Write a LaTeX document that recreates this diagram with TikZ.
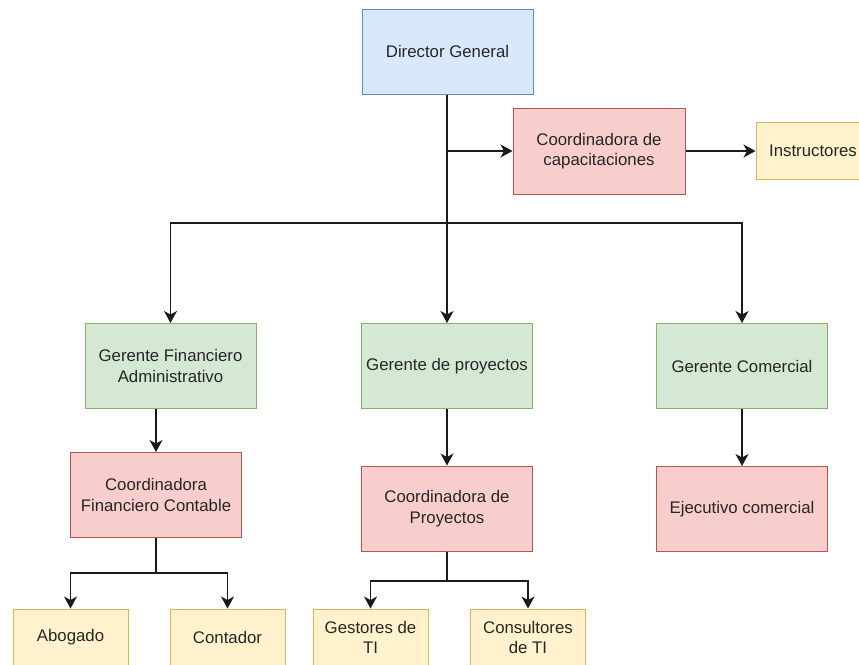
\documentclass[tikz,border=0pt]{standalone}
\usepackage{fontspec}
\setmainfont{Liberation Sans}
\usetikzlibrary{arrows.meta}

\definecolor{blueFill}{HTML}{DAE8FC}\definecolor{blueLine}{HTML}{6C8EBF}
\definecolor{redFill}{HTML}{F8CECC}\definecolor{redLine}{HTML}{B85450}
\definecolor{greenFill}{HTML}{D5E8D4}\definecolor{greenLine}{HTML}{82B366}
\definecolor{yellowFill}{HTML}{FFF2CC}\definecolor{yellowLine}{HTML}{D6B656}
\definecolor{ink}{HTML}{1A1A1A}
\definecolor{label}{HTML}{262626}

\tikzset{
  box/.style={draw, line width=1pt, rectangle, align=center, inner sep=0pt,
    text=label, font=\fontsize{16.8}{20.6}\selectfont},
  bigbox/.style={box, minimum width=171pt, minimum height=85pt},
  smallbox/.style={box, minimum width=115pt, minimum height=57pt},
  director/.style={bigbox, fill=blueFill, draw=blueLine},
  manager/.style={bigbox, fill=greenFill, draw=greenLine},
  coordbox/.style={bigbox, fill=redFill, draw=redLine},
  staff/.style={smallbox, fill=yellowFill, draw=yellowLine},
  link/.style={draw=ink, line width=1.3pt,
    -{Stealth[length=12pt,width=13pt,inset=3.5pt]}},
  wire/.style={draw=ink, line width=1.3pt}
}

\begin{document}
\begin{tikzpicture}[x=1pt,y=-1pt]
  \useasboundingbox (0,0) rectangle (859,664);
  \clip (0,0) rectangle (859,664);

  % top of the chart
  \node[director] (dg) at (447.5,51.5) {Director General};
  \node[coordbox, minimum width=172pt, minimum height=86pt] (cc) at (599,151) {Coordinadora de\\capacitaciones};
  \node[staff, minimum width=114pt] (ins) at (813,151) {Instructores};

  % managers
  \node[manager] (gfa) at (170.5,366) {Gerente Financiero\\Administrativo};
  \node[manager] (gp) at (447,366) {Gerente de proyectos};
  \node[manager] (gc) at (742,366) {Gerente Comercial};

  % coordinators
  \node[coordbox] (cfc) at (156,495) {Coordinadora\\Financiero Contable};
  \node[coordbox] (cp) at (447,508.5) {Coordinadora de\\Proyectos};
  \node[coordbox] (ec) at (742,509) {Ejecutivo comercial};

  % staff
  \node[staff] (ab) at (70.5,637.5) {Abogado};
  \node[staff] (con) at (227.5,637.5) {Contador};
  \node[staff] (gti) at (370.5,637.5) {Gestores de\\TI};
  \node[staff] (cti) at (528,637.5) {Consultores\\de TI};

  % branch points
  \coordinate (hub) at (447,223);
  \coordinate (cfcSplit) at (156,573);
  \coordinate (cpSplit) at (447,581);

  % connectors
  \draw[link] (gp.north |- dg.south) -- (gp.north);
  \draw[link] (gp.north |- cc.west) -- (cc.west);
  \draw[link] (cc.east) -- (ins.west);
  \draw[link] (hub) -| (gfa.north);
  \draw[link] (hub) -| (gc.north);

  \draw[link] (cfc.north |- gfa.south) -- (cfc.north);
  \draw[link] (gp.south) -- (cp.north);
  \draw[link] (gc.south) -- (ec.north);

  \draw[wire] (cfc.south) -- (cfcSplit);
  \draw[link] (cfcSplit) -| (ab.north);
  \draw[link] (cfcSplit) -| (con.north);

  \draw[wire] (cp.south) -- (cpSplit);
  \draw[link] (cpSplit) -| (gti.north);
  \draw[link] (cpSplit) -| (cti.north);
\end{tikzpicture}
\end{document}
